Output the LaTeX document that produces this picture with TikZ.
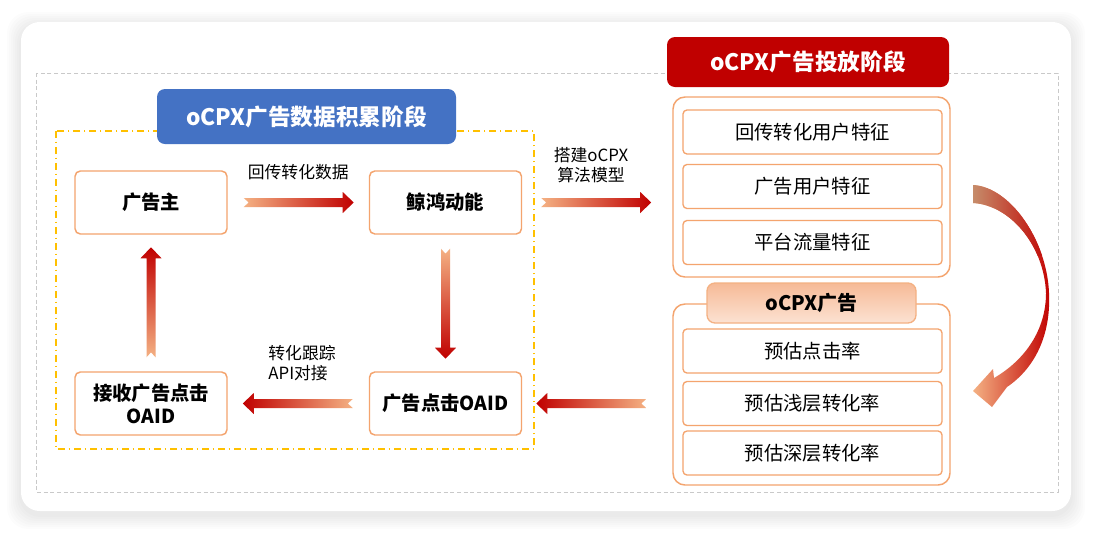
\documentclass[tikz,border=0pt]{standalone}
\usepackage{fontspec}
\setmainfont{Noto Sans CJK SC}
\usetikzlibrary{calc,positioning}

\definecolor{boxline}{HTML}{F4A46E}
\definecolor{lightor}{HTML}{F4B183}
\definecolor{darkred}{HTML}{C00000}
\definecolor{tan}{HTML}{C68C6A}
\definecolor{titleblue}{HTML}{4472C4}
\definecolor{titlered}{HTML}{C00000}
\definecolor{dashgray}{HTML}{C9C9C9}
\definecolor{dashgold}{HTML}{FFC000}
\definecolor{tabtop}{HTML}{F6BA97}
\definecolor{tabbot}{HTML}{FCE2D2}

% outline of the curved arrow, in pixels
\newcommand{\bendpath}{(973,185) .. controls (1010,187) and (1047,240) .. (1049,293)
	.. controls (1051,335) and (1035,368) .. (1007,387)
	-- (992,407) -- (973,391) -- (993,369) -- (994,378)
	.. controls (1025,360) and (1046,330) .. (1046,293)
	.. controls (1044,245) and (1010,205) .. (973,203) -- cycle}

\tikzset{
  box/.style={draw=boxline, line width=1.1pt, rounded corners=4pt, fill=white,
    minimum width=114pt, minimum height=47.25pt, align=center,
    font=\fontsize{14.5}{17}\selectfont\bfseries},
  feat/.style={draw=boxline, line width=1pt, rounded corners=3pt, fill=white,
    minimum width=194.25pt, minimum height=33pt, font=\fontsize{14.5}{17}\selectfont},
  group/.style={draw=boxline, line width=1.1pt, rounded corners=9pt, minimum width=207.75pt},
  stagetitle/.style={rounded corners=6pt, text=white, font=\fontsize{17}{20}\selectfont\bfseries},
  lbl/.style={font=\fontsize{12.6}{15}\selectfont, align=left},
  % gradient of each arrow, light at the tail, dark at the head
  toright/.style={left color=lightor, right color=darkred},
  toleft/.style={left color=darkred, right color=lightor},
  todown/.style={top color=lightor, bottom color=darkred},
  toup/.style={top color=darkred, bottom color=lightor},
  flowshade/.style={toright},
  flow/.pic={
    \shade[flowshade]
      (0,-4.5) -- (99,-4.5) -- (99,-10.5) -- (110,0) -- (99,10.5) -- (99,4.5) -- (0,4.5) -- (5,0) -- cycle;
  }
}

\begin{document}
\begin{tikzpicture}[x=0.75pt,y=-0.75pt]
	\useasboundingbox (0,0) rectangle (1095,533);
	\fill[white] (0,0) rectangle (1095,533);

	% card with soft shadow
	\foreach \s in {2,4,...,14}
		\fill[black, opacity=0.012, rounded corners=16pt] (21-\s,22-\s+4) rectangle (1071+\s,511+\s+4);
	\fill[white, rounded corners=14pt] (21,22) rectangle (1071,511);

	\draw[dashgray, line width=0.7pt, dash pattern=on 3pt off 2pt] (36,73) rectangle (1058,492);
	\draw[dashgold, line width=1pt, dash pattern=on 5pt off 3pt on 1pt off 3pt] (56,131) rectangle (534,449);

	% stage 1
	\node[stagetitle, fill=titleblue, minimum width=224.25pt, minimum height=41.25pt] (t1) at (306.5,116.5) {oCPX广告数据积累阶段};

	\node[box] (ad) at (151,202.5) {广告主};
	\node[box] (hw) at (445.5,202.5) {鲸鸿动能};
	\node[box] (recv) at (151,403.5) {接收广告点击\\OAID};
	\node[box] (click) at (445.5,403.5) {广告点击OAID};

	\pic at ($(ad.east)+(16,0)$) {flow};
	\pic[rotate=-90, flowshade/.style={todown}] at ($(hw.south)+(0,14)$) {flow};
	\pic[rotate=180, flowshade/.style={toleft}] at ($(click.west)+(-16,0)$) {flow};
	\pic[rotate=90, flowshade/.style={toup}] at ($(recv.north)+(0,-14)$) {flow};

	\node[lbl] (l1) at ($(ad.east)!.5!(hw.west)+(0,-30)$) {回传转化数据};
	\node[lbl] (l2) at (302,363) {转化跟踪\\API对接};

	% stage 2
	\node[stagetitle, fill=titlered, minimum width=211.5pt, minimum height=37.5pt] (t2) at (808,62) {oCPX广告投放阶段};

	\node[group, minimum height=135pt] (grp1) at (811.5,187) {};
	\node[feat] (f1) at (812.5,132) {回传转化用户特征};
	\node[feat] (f2) at (812.5,186.5) {广告用户特征};
	\node[feat] (f3) at (812.5,242.5) {平台流量特征};

	\node[group, minimum height=135.75pt] (grp2) at (811.5,394.5) {};
	\node[draw=lightor, line width=1pt, rounded corners=6pt, top color=tabtop, bottom color=tabbot,
		minimum width=156.75pt, minimum height=30pt, font=\fontsize{15}{18}\selectfont\bfseries] (tab) at (811.5,303) {oCPX广告};
	\node[feat] (p1) at (812.5,351) {预估点击率};
	\node[feat] (p2) at (812.5,403.5) {预估浅层转化率};
	\node[feat] (p3) at (812.5,453) {预估深层转化率};

	\pic at ($(hw.east)+(19,0)$) {flow};
	\pic[rotate=180, flowshade/.style={toleft}] at ($(grp2.west |- click.east)+(-26,0)$) {flow};
	\node[lbl, align=center] (l3) at (591,165) {搭建oCPX\\算法模型};

	% curved arrow from the features down to the oCPX ad
	\shade[left color=lightor, right color=darkred] \bendpath;
	\begin{scope}
		\clip (960,175) rectangle (1060,255);
		\shade[left color=tan, right color=darkred] \bendpath;
	\end{scope}
\end{tikzpicture}
\end{document}
